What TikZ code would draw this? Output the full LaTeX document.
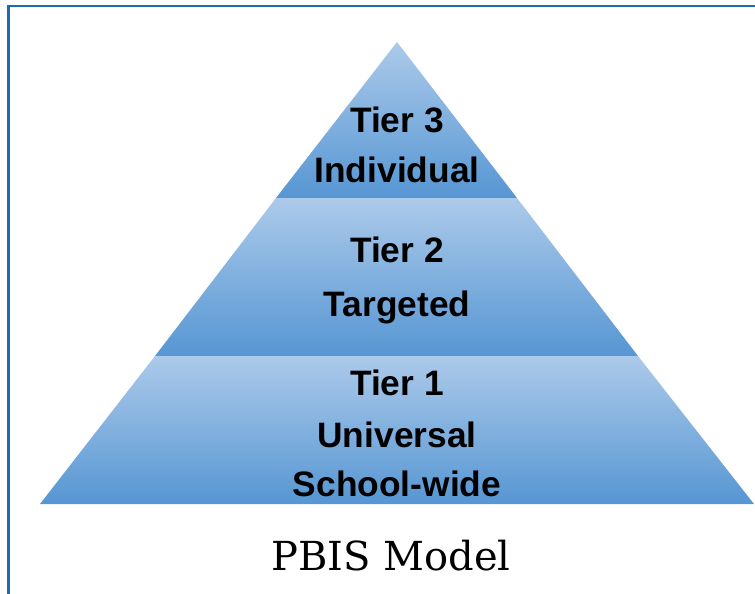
\documentclass[tikz,border=0pt]{standalone}
\usepackage{fontspec}
\newfontfamily\tierfont{Liberation Sans}
\newfontfamily\captionfont{DejaVu Serif}
\definecolor{framecol}{RGB}{30,106,176}
\definecolor{bandtop}{RGB}{172,202,234}
\definecolor{bandbot}{RGB}{86,150,211}
\tikzset{
  band/.style={top color=bandtop, bottom color=bandbot},
  tierlabel/.style={anchor=base, inner sep=0pt, font=\tierfont\bfseries\fontsize{26.5}{30}\selectfont},
  caption/.style={anchor=base, inner sep=0pt, font=\captionfont\fontsize{30}{36}\selectfont}
}
\begin{document}
\begin{tikzpicture}[x=0.75pt,y=-0.75pt]
  \useasboundingbox (0,0) rectangle (755,593);
  % frame
  \draw[framecol, line width=1.6pt] (8.5,600) -- (8.5,6) -- (760,6);
  % the three bands of the pyramid
  \shade[band] (397,42) -- (517,198) -- (276,198) -- cycle;
  \shade[band] (276,198) -- (517,198) -- (638,356) -- (155,356) -- cycle;
  \shade[band] (155,356) -- (638,356) -- (754,504) -- (40,504) -- cycle;
  % labels
  \node[tierlabel] (t3) at (397,132) {Tier 3};
  \node[tierlabel] (t3name) at (397,182) {Individual};
  \node[tierlabel] (t2) at (397,262) {Tier 2};
  \node[tierlabel] (t2name) at (397,316) {Targeted};
  \node[tierlabel] (t1) at (397,395) {Tier 1};
  \node[tierlabel] (t1name) at (397,447) {Universal};
  \node[tierlabel] (t1sub) at (397,496) {School-wide};
  \node[caption] (title) at (391,570) {PBIS Model};
\end{tikzpicture}
\end{document}
